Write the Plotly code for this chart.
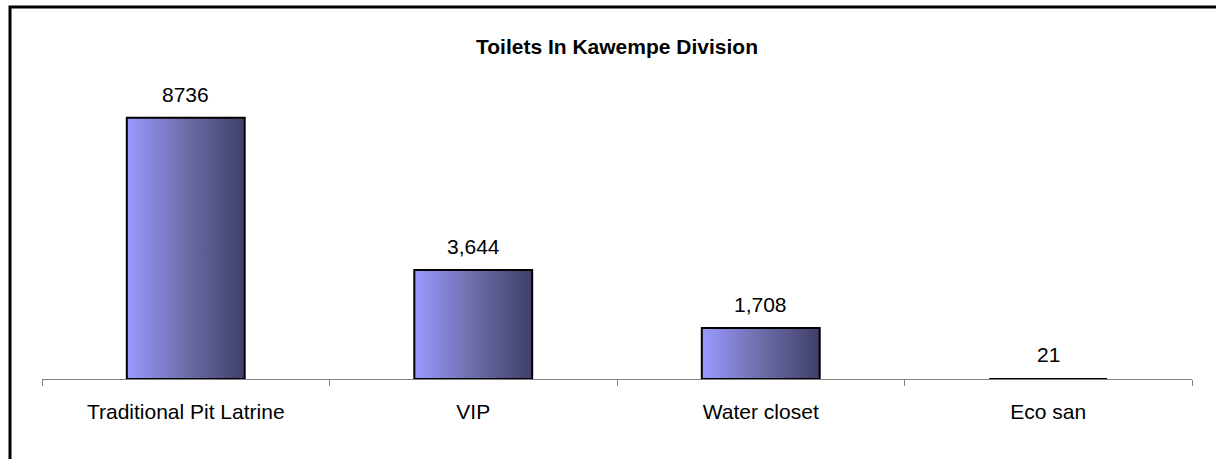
import plotly.graph_objects as go

categories = ["Traditional Pit Latrine", "VIP", "Water closet", "Eco san"]
values = [8736, 3644, 1708, 21]
value_labels = ["8736", "3,644", "1,708", "21"]
title_text = "Toilets In Kawempe Division"

W, H = 1216, 459
ML, MR, MT, MB = 42, 24, 80, 80
bar_w = 0.41
grad = [[0, "#9a9aff"], [0.5, "#6d6daa"], [1, "#3f3f68"]]
FS = 21

fig = go.Figure()
for i, v in enumerate(values):
    x0, x1 = i - bar_w / 2, i + bar_w / 2
    fig.add_trace(go.Scatter(
        x=[x0, x1, x1, x0, x0], y=[0, 0, v, v, 0],
        mode="lines", fill="toself",
        fillgradient=dict(type="horizontal", colorscale=grad, start=x0, stop=x1),
        line=dict(color="black", width=2),
        hoverinfo="skip", showlegend=False,
    ))

for i, (v, t) in enumerate(zip(values, value_labels)):
    fig.add_annotation(x=i, y=v, text=t, showarrow=False, yanchor="bottom",
                       yshift=10, font=dict(size=FS, color="black"))

pw = W - ML - MR
ph = H - MT - MB
fig.add_shape(type="rect", xref="paper", yref="paper",
              x0=(10 - ML) / pw, x1=(W + 20 - ML) / pw,
              y0=(H - MB - (H + 20)) / ph, y1=(H - MB - 7) / ph,
              line=dict(color="black", width=3), layer="below")

fig.update_layout(
    width=W, height=H,
    margin=dict(l=ML, r=MR, t=MT, b=MB),
    paper_bgcolor="white", plot_bgcolor="white",
    font=dict(family="Liberation Sans, Arial, sans-serif", color="black"),
    title=dict(text="<b>" + title_text + "</b>", x=0.5, xref="paper", xanchor="center",
               y=1 - 47 / H, yanchor="middle", font=dict(size=FS)),
    xaxis=dict(range=[-0.5, 3.5], tickvals=list(range(len(categories))),
               ticktext=categories, ticks="", showgrid=False, zeroline=False,
               showline=True, linecolor="#808080", linewidth=1,
               tickfont=dict(size=FS), fixedrange=True, ticklabelstandoff=14,
               minor=dict(tickvals=[k - 0.5 for k in range(len(categories) + 1)],
                          ticks="outside", ticklen=6, tickcolor="#808080",
                          showgrid=False)),
    yaxis=dict(range=[0, 10000], visible=False, fixedrange=True),
)

fig.write_html("out.html", config={"displayModeBar": False},
               post_script="document.body.style.margin='0';")
